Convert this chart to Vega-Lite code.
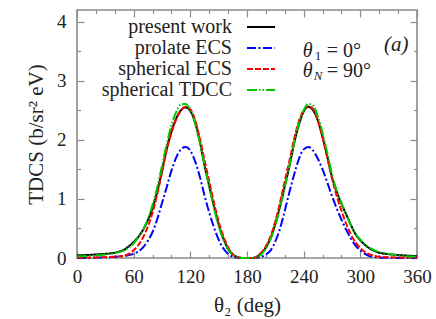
{
  "$schema": "https://vega.github.io/schema/vega-lite/v6.json",
  "width": 340,
  "height": 248,
  "autosize": {"type": "none"},
  "padding": {"left": 77, "top": 10, "right": 19, "bottom": 61},
  "background": "white",
  "config": {
    "view": {"stroke": "#8a8a8a", "strokeWidth": 1.6},
    "font": "'Liberation Serif', 'DejaVu Serif', serif",
    "text": {"font": "'Liberation Serif', 'DejaVu Serif', serif"},
    "axis": {
      "domain": false,
      "grid": false,
      "tickColor": "#8a8a8a",
      "tickWidth": 1.2,
      "labelFont": "'Liberation Serif', 'DejaVu Serif', serif",
      "labelFontSize": 19,
      "labelColor": "#222222",
      "titleFont": "'Liberation Serif', 'DejaVu Serif', serif",
      "titleFontSize": 21,
      "titleFontWeight": "normal",
      "titleColor": "#222222"
    }
  },
  "datasets": {
    "curves": [
      {"theta2": 0, "tdcs": 0.045, "series": "present work"},
      {"theta2": 10, "tdcs": 0.05, "series": "present work"},
      {"theta2": 20, "tdcs": 0.06, "series": "present work"},
      {"theta2": 30, "tdcs": 0.07, "series": "present work"},
      {"theta2": 40, "tdcs": 0.09, "series": "present work"},
      {"theta2": 45, "tdcs": 0.11, "series": "present work"},
      {"theta2": 50, "tdcs": 0.14, "series": "present work"},
      {"theta2": 55, "tdcs": 0.2, "series": "present work"},
      {"theta2": 60, "tdcs": 0.27, "series": "present work"},
      {"theta2": 65, "tdcs": 0.36, "series": "present work"},
      {"theta2": 70, "tdcs": 0.48, "series": "present work"},
      {"theta2": 75, "tdcs": 0.64, "series": "present work"},
      {"theta2": 80, "tdcs": 0.85, "series": "present work"},
      {"theta2": 85, "tdcs": 1.13, "series": "present work"},
      {"theta2": 90, "tdcs": 1.48, "series": "present work"},
      {"theta2": 95, "tdcs": 1.85, "series": "present work"},
      {"theta2": 100, "tdcs": 2.14, "series": "present work"},
      {"theta2": 105, "tdcs": 2.36, "series": "present work"},
      {"theta2": 110, "tdcs": 2.5, "series": "present work"},
      {"theta2": 115, "tdcs": 2.55, "series": "present work"},
      {"theta2": 120, "tdcs": 2.49, "series": "present work"},
      {"theta2": 125, "tdcs": 2.3, "series": "present work"},
      {"theta2": 130, "tdcs": 1.98, "series": "present work"},
      {"theta2": 135, "tdcs": 1.57, "series": "present work"},
      {"theta2": 140, "tdcs": 1.22, "series": "present work"},
      {"theta2": 145, "tdcs": 0.88, "series": "present work"},
      {"theta2": 150, "tdcs": 0.57, "series": "present work"},
      {"theta2": 155, "tdcs": 0.33, "series": "present work"},
      {"theta2": 160, "tdcs": 0.16, "series": "present work"},
      {"theta2": 165, "tdcs": 0.06, "series": "present work"},
      {"theta2": 170, "tdcs": 0.015, "series": "present work"},
      {"theta2": 175, "tdcs": 0, "series": "present work"},
      {"theta2": 180, "tdcs": 0, "series": "present work"},
      {"theta2": 185, "tdcs": 0, "series": "present work"},
      {"theta2": 190, "tdcs": 0.02, "series": "present work"},
      {"theta2": 195, "tdcs": 0.08, "series": "present work"},
      {"theta2": 200, "tdcs": 0.18, "series": "present work"},
      {"theta2": 205, "tdcs": 0.34, "series": "present work"},
      {"theta2": 210, "tdcs": 0.58, "series": "present work"},
      {"theta2": 215, "tdcs": 0.88, "series": "present work"},
      {"theta2": 220, "tdcs": 1.22, "series": "present work"},
      {"theta2": 225, "tdcs": 1.56, "series": "present work"},
      {"theta2": 230, "tdcs": 1.95, "series": "present work"},
      {"theta2": 235, "tdcs": 2.26, "series": "present work"},
      {"theta2": 240, "tdcs": 2.48, "series": "present work"},
      {"theta2": 245, "tdcs": 2.56, "series": "present work"},
      {"theta2": 250, "tdcs": 2.5, "series": "present work"},
      {"theta2": 255, "tdcs": 2.33, "series": "present work"},
      {"theta2": 260, "tdcs": 2.05, "series": "present work"},
      {"theta2": 265, "tdcs": 1.72, "series": "present work"},
      {"theta2": 270, "tdcs": 1.37, "series": "present work"},
      {"theta2": 275, "tdcs": 1.12, "series": "present work"},
      {"theta2": 280, "tdcs": 0.92, "series": "present work"},
      {"theta2": 285, "tdcs": 0.74, "series": "present work"},
      {"theta2": 290, "tdcs": 0.56, "series": "present work"},
      {"theta2": 295, "tdcs": 0.4, "series": "present work"},
      {"theta2": 300, "tdcs": 0.3, "series": "present work"},
      {"theta2": 305, "tdcs": 0.22, "series": "present work"},
      {"theta2": 310, "tdcs": 0.16, "series": "present work"},
      {"theta2": 315, "tdcs": 0.12, "series": "present work"},
      {"theta2": 320, "tdcs": 0.09, "series": "present work"},
      {"theta2": 330, "tdcs": 0.065, "series": "present work"},
      {"theta2": 340, "tdcs": 0.05, "series": "present work"},
      {"theta2": 350, "tdcs": 0.04, "series": "present work"},
      {"theta2": 360, "tdcs": 0.03, "series": "present work"},

      {"theta2": 0, "tdcs": 0, "series": "prolate ECS"},
      {"theta2": 10, "tdcs": 0, "series": "prolate ECS"},
      {"theta2": 20, "tdcs": 0.005, "series": "prolate ECS"},
      {"theta2": 30, "tdcs": 0.01, "series": "prolate ECS"},
      {"theta2": 40, "tdcs": 0.02, "series": "prolate ECS"},
      {"theta2": 45, "tdcs": 0.025, "series": "prolate ECS"},
      {"theta2": 50, "tdcs": 0.035, "series": "prolate ECS"},
      {"theta2": 55, "tdcs": 0.05, "series": "prolate ECS"},
      {"theta2": 60, "tdcs": 0.07, "series": "prolate ECS"},
      {"theta2": 65, "tdcs": 0.11, "series": "prolate ECS"},
      {"theta2": 70, "tdcs": 0.18, "series": "prolate ECS"},
      {"theta2": 75, "tdcs": 0.29, "series": "prolate ECS"},
      {"theta2": 80, "tdcs": 0.44, "series": "prolate ECS"},
      {"theta2": 85, "tdcs": 0.66, "series": "prolate ECS"},
      {"theta2": 90, "tdcs": 0.93, "series": "prolate ECS"},
      {"theta2": 95, "tdcs": 1.2, "series": "prolate ECS"},
      {"theta2": 100, "tdcs": 1.48, "series": "prolate ECS"},
      {"theta2": 105, "tdcs": 1.7, "series": "prolate ECS"},
      {"theta2": 110, "tdcs": 1.84, "series": "prolate ECS"},
      {"theta2": 115, "tdcs": 1.88, "series": "prolate ECS"},
      {"theta2": 120, "tdcs": 1.82, "series": "prolate ECS"},
      {"theta2": 125, "tdcs": 1.64, "series": "prolate ECS"},
      {"theta2": 130, "tdcs": 1.38, "series": "prolate ECS"},
      {"theta2": 135, "tdcs": 1.06, "series": "prolate ECS"},
      {"theta2": 140, "tdcs": 0.77, "series": "prolate ECS"},
      {"theta2": 145, "tdcs": 0.52, "series": "prolate ECS"},
      {"theta2": 150, "tdcs": 0.31, "series": "prolate ECS"},
      {"theta2": 155, "tdcs": 0.16, "series": "prolate ECS"},
      {"theta2": 160, "tdcs": 0.07, "series": "prolate ECS"},
      {"theta2": 165, "tdcs": 0.02, "series": "prolate ECS"},
      {"theta2": 170, "tdcs": 0.005, "series": "prolate ECS"},
      {"theta2": 175, "tdcs": 0, "series": "prolate ECS"},
      {"theta2": 180, "tdcs": 0, "series": "prolate ECS"},
      {"theta2": 185, "tdcs": 0, "series": "prolate ECS"},
      {"theta2": 190, "tdcs": 0.005, "series": "prolate ECS"},
      {"theta2": 195, "tdcs": 0.02, "series": "prolate ECS"},
      {"theta2": 200, "tdcs": 0.06, "series": "prolate ECS"},
      {"theta2": 205, "tdcs": 0.13, "series": "prolate ECS"},
      {"theta2": 210, "tdcs": 0.28, "series": "prolate ECS"},
      {"theta2": 215, "tdcs": 0.5, "series": "prolate ECS"},
      {"theta2": 220, "tdcs": 0.8, "series": "prolate ECS"},
      {"theta2": 225, "tdcs": 1.12, "series": "prolate ECS"},
      {"theta2": 230, "tdcs": 1.42, "series": "prolate ECS"},
      {"theta2": 235, "tdcs": 1.68, "series": "prolate ECS"},
      {"theta2": 240, "tdcs": 1.84, "series": "prolate ECS"},
      {"theta2": 245, "tdcs": 1.88, "series": "prolate ECS"},
      {"theta2": 250, "tdcs": 1.82, "series": "prolate ECS"},
      {"theta2": 255, "tdcs": 1.68, "series": "prolate ECS"},
      {"theta2": 260, "tdcs": 1.5, "series": "prolate ECS"},
      {"theta2": 265, "tdcs": 1.28, "series": "prolate ECS"},
      {"theta2": 270, "tdcs": 1.05, "series": "prolate ECS"},
      {"theta2": 275, "tdcs": 0.84, "series": "prolate ECS"},
      {"theta2": 280, "tdcs": 0.65, "series": "prolate ECS"},
      {"theta2": 285, "tdcs": 0.48, "series": "prolate ECS"},
      {"theta2": 290, "tdcs": 0.33, "series": "prolate ECS"},
      {"theta2": 295, "tdcs": 0.21, "series": "prolate ECS"},
      {"theta2": 300, "tdcs": 0.13, "series": "prolate ECS"},
      {"theta2": 305, "tdcs": 0.07, "series": "prolate ECS"},
      {"theta2": 310, "tdcs": 0.03, "series": "prolate ECS"},
      {"theta2": 315, "tdcs": 0.015, "series": "prolate ECS"},
      {"theta2": 320, "tdcs": 0.008, "series": "prolate ECS"},
      {"theta2": 330, "tdcs": 0.003, "series": "prolate ECS"},
      {"theta2": 340, "tdcs": 0, "series": "prolate ECS"},
      {"theta2": 350, "tdcs": 0, "series": "prolate ECS"},
      {"theta2": 360, "tdcs": 0, "series": "prolate ECS"},

      {"theta2": 0, "tdcs": 0.01, "series": "spherical ECS"},
      {"theta2": 10, "tdcs": 0.01, "series": "spherical ECS"},
      {"theta2": 20, "tdcs": 0.01, "series": "spherical ECS"},
      {"theta2": 30, "tdcs": 0.015, "series": "spherical ECS"},
      {"theta2": 40, "tdcs": 0.02, "series": "spherical ECS"},
      {"theta2": 45, "tdcs": 0.03, "series": "spherical ECS"},
      {"theta2": 50, "tdcs": 0.04, "series": "spherical ECS"},
      {"theta2": 55, "tdcs": 0.07, "series": "spherical ECS"},
      {"theta2": 60, "tdcs": 0.13, "series": "spherical ECS"},
      {"theta2": 65, "tdcs": 0.22, "series": "spherical ECS"},
      {"theta2": 70, "tdcs": 0.35, "series": "spherical ECS"},
      {"theta2": 75, "tdcs": 0.53, "series": "spherical ECS"},
      {"theta2": 80, "tdcs": 0.77, "series": "spherical ECS"},
      {"theta2": 85, "tdcs": 1.08, "series": "spherical ECS"},
      {"theta2": 90, "tdcs": 1.45, "series": "spherical ECS"},
      {"theta2": 95, "tdcs": 1.83, "series": "spherical ECS"},
      {"theta2": 100, "tdcs": 2.12, "series": "spherical ECS"},
      {"theta2": 105, "tdcs": 2.35, "series": "spherical ECS"},
      {"theta2": 110, "tdcs": 2.5, "series": "spherical ECS"},
      {"theta2": 115, "tdcs": 2.56, "series": "spherical ECS"},
      {"theta2": 120, "tdcs": 2.52, "series": "spherical ECS"},
      {"theta2": 125, "tdcs": 2.34, "series": "spherical ECS"},
      {"theta2": 130, "tdcs": 2.03, "series": "spherical ECS"},
      {"theta2": 135, "tdcs": 1.66, "series": "spherical ECS"},
      {"theta2": 140, "tdcs": 1.3, "series": "spherical ECS"},
      {"theta2": 145, "tdcs": 0.94, "series": "spherical ECS"},
      {"theta2": 150, "tdcs": 0.62, "series": "spherical ECS"},
      {"theta2": 155, "tdcs": 0.37, "series": "spherical ECS"},
      {"theta2": 160, "tdcs": 0.18, "series": "spherical ECS"},
      {"theta2": 165, "tdcs": 0.06, "series": "spherical ECS"},
      {"theta2": 170, "tdcs": 0.015, "series": "spherical ECS"},
      {"theta2": 175, "tdcs": 0, "series": "spherical ECS"},
      {"theta2": 180, "tdcs": 0, "series": "spherical ECS"},
      {"theta2": 185, "tdcs": 0, "series": "spherical ECS"},
      {"theta2": 190, "tdcs": 0.02, "series": "spherical ECS"},
      {"theta2": 195, "tdcs": 0.09, "series": "spherical ECS"},
      {"theta2": 200, "tdcs": 0.2, "series": "spherical ECS"},
      {"theta2": 205, "tdcs": 0.37, "series": "spherical ECS"},
      {"theta2": 210, "tdcs": 0.62, "series": "spherical ECS"},
      {"theta2": 215, "tdcs": 0.94, "series": "spherical ECS"},
      {"theta2": 220, "tdcs": 1.3, "series": "spherical ECS"},
      {"theta2": 225, "tdcs": 1.65, "series": "spherical ECS"},
      {"theta2": 230, "tdcs": 2.02, "series": "spherical ECS"},
      {"theta2": 235, "tdcs": 2.32, "series": "spherical ECS"},
      {"theta2": 240, "tdcs": 2.5, "series": "spherical ECS"},
      {"theta2": 245, "tdcs": 2.57, "series": "spherical ECS"},
      {"theta2": 250, "tdcs": 2.52, "series": "spherical ECS"},
      {"theta2": 255, "tdcs": 2.33, "series": "spherical ECS"},
      {"theta2": 260, "tdcs": 2.04, "series": "spherical ECS"},
      {"theta2": 265, "tdcs": 1.7, "series": "spherical ECS"},
      {"theta2": 270, "tdcs": 1.35, "series": "spherical ECS"},
      {"theta2": 275, "tdcs": 1.05, "series": "spherical ECS"},
      {"theta2": 280, "tdcs": 0.8, "series": "spherical ECS"},
      {"theta2": 285, "tdcs": 0.58, "series": "spherical ECS"},
      {"theta2": 290, "tdcs": 0.4, "series": "spherical ECS"},
      {"theta2": 295, "tdcs": 0.26, "series": "spherical ECS"},
      {"theta2": 300, "tdcs": 0.17, "series": "spherical ECS"},
      {"theta2": 305, "tdcs": 0.1, "series": "spherical ECS"},
      {"theta2": 310, "tdcs": 0.06, "series": "spherical ECS"},
      {"theta2": 315, "tdcs": 0.035, "series": "spherical ECS"},
      {"theta2": 320, "tdcs": 0.02, "series": "spherical ECS"},
      {"theta2": 330, "tdcs": 0.012, "series": "spherical ECS"},
      {"theta2": 340, "tdcs": 0.01, "series": "spherical ECS"},
      {"theta2": 350, "tdcs": 0.01, "series": "spherical ECS"},
      {"theta2": 360, "tdcs": 0.01, "series": "spherical ECS"},

      {"theta2": 0, "tdcs": 0.03, "series": "spherical TDCC"},
      {"theta2": 10, "tdcs": 0.035, "series": "spherical TDCC"},
      {"theta2": 20, "tdcs": 0.045, "series": "spherical TDCC"},
      {"theta2": 30, "tdcs": 0.06, "series": "spherical TDCC"},
      {"theta2": 40, "tdcs": 0.085, "series": "spherical TDCC"},
      {"theta2": 45, "tdcs": 0.1, "series": "spherical TDCC"},
      {"theta2": 50, "tdcs": 0.13, "series": "spherical TDCC"},
      {"theta2": 55, "tdcs": 0.18, "series": "spherical TDCC"},
      {"theta2": 60, "tdcs": 0.25, "series": "spherical TDCC"},
      {"theta2": 65, "tdcs": 0.35, "series": "spherical TDCC"},
      {"theta2": 70, "tdcs": 0.48, "series": "spherical TDCC"},
      {"theta2": 75, "tdcs": 0.66, "series": "spherical TDCC"},
      {"theta2": 80, "tdcs": 0.9, "series": "spherical TDCC"},
      {"theta2": 85, "tdcs": 1.2, "series": "spherical TDCC"},
      {"theta2": 90, "tdcs": 1.56, "series": "spherical TDCC"},
      {"theta2": 95, "tdcs": 1.93, "series": "spherical TDCC"},
      {"theta2": 100, "tdcs": 2.25, "series": "spherical TDCC"},
      {"theta2": 105, "tdcs": 2.47, "series": "spherical TDCC"},
      {"theta2": 110, "tdcs": 2.6, "series": "spherical TDCC"},
      {"theta2": 115, "tdcs": 2.61, "series": "spherical TDCC"},
      {"theta2": 120, "tdcs": 2.5, "series": "spherical TDCC"},
      {"theta2": 125, "tdcs": 2.28, "series": "spherical TDCC"},
      {"theta2": 130, "tdcs": 1.96, "series": "spherical TDCC"},
      {"theta2": 135, "tdcs": 1.58, "series": "spherical TDCC"},
      {"theta2": 140, "tdcs": 1.2, "series": "spherical TDCC"},
      {"theta2": 145, "tdcs": 0.85, "series": "spherical TDCC"},
      {"theta2": 150, "tdcs": 0.54, "series": "spherical TDCC"},
      {"theta2": 155, "tdcs": 0.31, "series": "spherical TDCC"},
      {"theta2": 160, "tdcs": 0.14, "series": "spherical TDCC"},
      {"theta2": 165, "tdcs": 0.05, "series": "spherical TDCC"},
      {"theta2": 170, "tdcs": 0.01, "series": "spherical TDCC"},
      {"theta2": 175, "tdcs": 0, "series": "spherical TDCC"},
      {"theta2": 180, "tdcs": 0, "series": "spherical TDCC"},
      {"theta2": 185, "tdcs": 0, "series": "spherical TDCC"},
      {"theta2": 190, "tdcs": 0.01, "series": "spherical TDCC"},
      {"theta2": 195, "tdcs": 0.06, "series": "spherical TDCC"},
      {"theta2": 200, "tdcs": 0.16, "series": "spherical TDCC"},
      {"theta2": 205, "tdcs": 0.32, "series": "spherical TDCC"},
      {"theta2": 210, "tdcs": 0.55, "series": "spherical TDCC"},
      {"theta2": 215, "tdcs": 0.85, "series": "spherical TDCC"},
      {"theta2": 220, "tdcs": 1.2, "series": "spherical TDCC"},
      {"theta2": 225, "tdcs": 1.57, "series": "spherical TDCC"},
      {"theta2": 230, "tdcs": 1.95, "series": "spherical TDCC"},
      {"theta2": 235, "tdcs": 2.28, "series": "spherical TDCC"},
      {"theta2": 240, "tdcs": 2.5, "series": "spherical TDCC"},
      {"theta2": 245, "tdcs": 2.61, "series": "spherical TDCC"},
      {"theta2": 250, "tdcs": 2.58, "series": "spherical TDCC"},
      {"theta2": 255, "tdcs": 2.4, "series": "spherical TDCC"},
      {"theta2": 260, "tdcs": 2.12, "series": "spherical TDCC"},
      {"theta2": 265, "tdcs": 1.78, "series": "spherical TDCC"},
      {"theta2": 270, "tdcs": 1.42, "series": "spherical TDCC"},
      {"theta2": 275, "tdcs": 1.14, "series": "spherical TDCC"},
      {"theta2": 280, "tdcs": 0.93, "series": "spherical TDCC"},
      {"theta2": 285, "tdcs": 0.74, "series": "spherical TDCC"},
      {"theta2": 290, "tdcs": 0.56, "series": "spherical TDCC"},
      {"theta2": 295, "tdcs": 0.41, "series": "spherical TDCC"},
      {"theta2": 300, "tdcs": 0.31, "series": "spherical TDCC"},
      {"theta2": 305, "tdcs": 0.23, "series": "spherical TDCC"},
      {"theta2": 310, "tdcs": 0.17, "series": "spherical TDCC"},
      {"theta2": 315, "tdcs": 0.13, "series": "spherical TDCC"},
      {"theta2": 320, "tdcs": 0.1, "series": "spherical TDCC"},
      {"theta2": 330, "tdcs": 0.07, "series": "spherical TDCC"},
      {"theta2": 340, "tdcs": 0.045, "series": "spherical TDCC"},
      {"theta2": 350, "tdcs": 0.03, "series": "spherical TDCC"},
      {"theta2": 360, "tdcs": 0.02, "series": "spherical TDCC"}
    ]
  },
  "layer": [
    {
      "data": {"name": "curves"},
      "mark": {"type": "line", "strokeWidth": 2, "interpolate": "monotone"},
      "encoding": {
        "x": {
          "field": "theta2", "type": "quantitative",
          "scale": {"domain": [0, 360], "nice": false, "zero": false},
          "axis": {
            "orient": "bottom",
            "values": [0, 20, 40, 60, 80, 100, 120, 140, 160, 180, 200, 220, 240, 260, 280, 300, 320, 340, 360],
            "labelExpr": "datum.value % 60 === 0 ? format(datum.value, 'd') : ''",
            "tickSize": {"condition": {"test": "datum.value % 60 === 0", "value": -7}, "value": -3.5},
            "labelPadding": 16,
            "labelFlush": false,
            "labelOverlap": false,
            "title": "θ₂ (deg)",
            "titlePadding": 5
          }
        },
        "y": {
          "field": "tdcs", "type": "quantitative",
          "scale": {"domain": [0, 4.2], "nice": false},
          "axis": {
            "orient": "left",
            "values": [0, 0.5, 1, 1.5, 2, 2.5, 3, 3.5, 4],
            "labelExpr": "datum.value % 1 === 0 ? format(datum.value, 'd') : ''",
            "tickSize": {"condition": {"test": "datum.value % 1 === 0", "value": -7}, "value": -3.5},
            "labelPadding": 18,
            "labelFlush": false,
            "labelOverlap": false,
            "title": "TDCS (b/sr² eV)",
            "titlePadding": 10
          }
        },
        "color": {
          "field": "series", "type": "nominal",
          "scale": {
            "domain": ["present work", "prolate ECS", "spherical ECS", "spherical TDCC"],
            "range": ["#000000", "#0000ff", "#ff0000", "#00c800"]
          },
          "legend": {
            "title": null, "orient": "none", "legendX": 174, "legendY": 7,
            "symbolType": "M-2,0H2", "symbolSize": 196, "symbolStrokeWidth": 2,
            "labelFont": "'Liberation Serif', 'DejaVu Serif', serif", "labelFontSize": 20, "labelColor": "#222222",
            "labelAlign": "right", "labelOffset": -39, "rowPadding": 1, "padding": 0
          }
        },
        "strokeDash": {
          "field": "series", "type": "nominal",
          "scale": {
            "domain": ["present work", "prolate ECS", "spherical ECS", "spherical TDCC"],
            "range": [[1, 0], [9, 2.5, 2, 2.5], [6, 2], [10, 2, 1.5, 2, 1.5, 2]]
          },
          "legend": {
            "title": null, "orient": "none", "legendX": 174, "legendY": 7,
            "symbolType": "M-2,0H2", "symbolSize": 196, "symbolStrokeWidth": 2,
            "labelFont": "'Liberation Serif', 'DejaVu Serif', serif", "labelFontSize": 20, "labelColor": "#222222",
            "labelAlign": "right", "labelOffset": -39, "rowPadding": 1, "padding": 0
          }
        }
      }
    },
    {
      "data": {"name": "curves"},
      "mark": {"type": "line", "opacity": 0},
      "encoding": {
        "x": {
          "field": "theta2", "type": "quantitative",
          "axis": {
            "orient": "top",
            "values": [0, 20, 40, 60, 80, 100, 120, 140, 160, 180, 200, 220, 240, 260, 280, 300, 320, 340, 360],
            "labels": false,
            "tickSize": {"condition": {"test": "datum.value % 60 === 0", "value": -7}, "value": -3.5},
            "title": null
          }
        },
        "y": {
          "field": "tdcs", "type": "quantitative",
          "axis": {
            "orient": "right",
            "values": [0, 0.5, 1, 1.5, 2, 2.5, 3, 3.5, 4],
            "labels": false,
            "tickSize": {"condition": {"test": "datum.value % 1 === 0", "value": -7}, "value": -3.5},
            "title": null
          }
        }
      }
    },
    {
      "data": {"values": [{}]},
      "mark": {"type": "text", "text": "(a)", "font": "'Liberation Serif', 'DejaVu Serif', serif", "fontSize": 21, "fontStyle": "italic", "align": "center", "baseline": "middle", "color": "#222222"},
      "encoding": {
        "x": {"datum": 338, "type": "quantitative", "axis": null},
        "y": {"datum": 3.6, "type": "quantitative", "axis": null}
      }
    },
    {
      "data": {"values": [{}]},
      "mark": {"type": "text", "text": "θ", "font": "'Liberation Serif', 'DejaVu Serif', serif", "fontSize": 20, "fontStyle": "italic", "align": "left", "baseline": "middle", "color": "#222222"},
      "encoding": {
        "x": {"datum": 239, "type": "quantitative", "axis": null},
        "y": {"datum": 3.5, "type": "quantitative", "axis": null}
      }
    },
    {
      "data": {"values": [{}]},
      "mark": {"type": "text", "text": "1", "font": "'Liberation Serif', 'DejaVu Serif', serif", "fontSize": 13, "align": "left", "baseline": "middle", "dx": 12, "dy": 5, "color": "#222222"},
      "encoding": {
        "x": {"datum": 239, "type": "quantitative", "axis": null},
        "y": {"datum": 3.5, "type": "quantitative", "axis": null}
      }
    },
    {
      "data": {"values": [{}]},
      "mark": {"type": "text", "text": "= 0°", "font": "'Liberation Serif', 'DejaVu Serif', serif", "fontSize": 20, "align": "left", "baseline": "middle", "dx": 24, "color": "#222222"},
      "encoding": {
        "x": {"datum": 239, "type": "quantitative", "axis": null},
        "y": {"datum": 3.5, "type": "quantitative", "axis": null}
      }
    },
    {
      "data": {"values": [{}]},
      "mark": {"type": "text", "text": "θ", "font": "'Liberation Serif', 'DejaVu Serif', serif", "fontSize": 20, "fontStyle": "italic", "align": "left", "baseline": "middle", "color": "#222222"},
      "encoding": {
        "x": {"datum": 239, "type": "quantitative", "axis": null},
        "y": {"datum": 3.16, "type": "quantitative", "axis": null}
      }
    },
    {
      "data": {"values": [{}]},
      "mark": {"type": "text", "text": "N", "font": "'Liberation Serif', 'DejaVu Serif', serif", "fontSize": 13, "fontStyle": "italic", "align": "left", "baseline": "middle", "dx": 11, "dy": 5, "color": "#222222"},
      "encoding": {
        "x": {"datum": 239, "type": "quantitative", "axis": null},
        "y": {"datum": 3.16, "type": "quantitative", "axis": null}
      }
    },
    {
      "data": {"values": [{}]},
      "mark": {"type": "text", "text": "= 90°", "font": "'Liberation Serif', 'DejaVu Serif', serif", "fontSize": 20, "align": "left", "baseline": "middle", "dx": 24, "color": "#222222"},
      "encoding": {
        "x": {"datum": 239, "type": "quantitative", "axis": null},
        "y": {"datum": 3.16, "type": "quantitative", "axis": null}
      }
    }
  ],
  "resolve": {"axis": {"x": "independent", "y": "independent"}}
}
